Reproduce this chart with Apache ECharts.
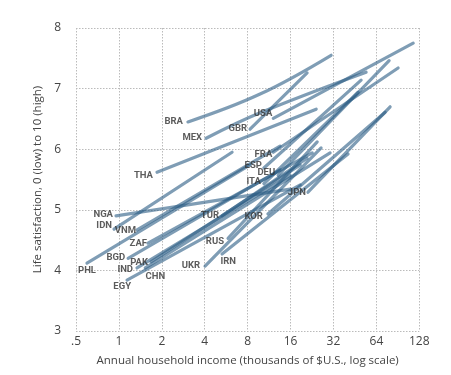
<!DOCTYPE html>
<html>
<head>
<meta charset="utf-8">
<script src="https://cdn.jsdelivr.net/npm/echarts@6/dist/echarts.min.js"></script>
<style>
html,body{margin:0;padding:0;background:#fff;}
#chart{width:451px;height:375px;}
</style>
</head>
<body>
<div id="chart"></div>
<script>
// Country codes
const countries = ['BRA','MEX','GBR','USA','THA','FRA','ESP','DEU','ITA','JPN','KOR','TUR','RUS','UKR','IRN','NGA','IDN','VNM','ZAF','BGD','PAK','IND','PHL','CHN','EGY'];
// Annual household income (thousands of $U.S.) along each country's curve
const incomes = [
  [3.05, 9.78, 30.8],
  [4.09, 9.78, 54.2],
  [8.32, 20.9],
  [12.1, 116],
  [1.85, 24.2],
  [12.1, 90.9],
  [10.4, 50.0],
  [13.1, 78.6],
  [10.4, 47.6],
  [21.2, 79.9],
  [11.1, 73.7],
  [5.29, 20.9],
  [5.83, 24.6],
  [4.02, 26.2],
  [5.29, 40.5],
  [0.954, 15.9],
  [0.924, 6.22],
  [1.34, 13.5],
  [1.60, 22.7],
  [1.16, 13.5],
  [1.68, 18.7],
  [1.34, 15.9],
  [0.597, 8.32],
  [1.53, 30.3],
  [1.14, 18.7]
];
// Life satisfaction (0-10) along each country's curve
const satisfaction = [
  [6.45, 6.91, 7.55],
  [6.18, 6.60, 7.27],
  [6.33, 7.26],
  [6.51, 7.75],
  [5.62, 6.66],
  [5.95, 7.34],
  [5.69, 7.14],
  [5.57, 7.46],
  [5.43, 6.94],
  [5.29, 6.70],
  [4.93, 6.61],
  [4.90, 5.85],
  [4.53, 6.12],
  [4.07, 6.02],
  [4.27, 5.92],
  [4.90, 5.34],
  [4.68, 5.95],
  [4.67, 6.05],
  [4.45, 5.94],
  [4.20, 5.66],
  [4.14, 5.74],
  [4.04, 5.57],
  [4.12, 5.74],
  [4.04, 5.94],
  [3.84, 5.41]
];
const xTickLabels = {0.5:'.5',1:'1',2:'2',4:'4',8:'8',16:'16',32:'32',64:'64',128:'128'};

// label placement (style): offset in px from the curve's start point
const labelOffsets = {
  BRA:[-5,0], MEX:[-4,-1], GBR:[-3,-1], USA:[-1,-5], THA:[-4,3], FRA:[-1,2], ESP:[-2,-2],
  DEU:[-3,-3], ITA:[-3,-2], JPN:[-2,0], KOR:[-5,3], TUR:[-3,0], RUS:[-4,3], UKR:[-5,-1],
  IRN:[14,8], NGA:[-3,-1], IDN:[-2,-4], VNM:[-1,1], ZAF:[-1,0], BGD:[-3,-1], PAK:[-3,1],
  IND:[-4,2], PHL:[9,7], CHN:[20,9], EGY:[4,7]
};

const lineColor = '#2a5b84';
const axisFont = 'Open Sans';
const series = [];
countries.forEach((c, i) => {
  series.push({
    type: 'line',
    name: c,
    data: incomes[i].map((v, j) => [v, satisfaction[i][j]]),
    smooth: 0.4,
    showSymbol: false,
    symbol: 'none',
    silent: true,
    lineStyle: {color: lineColor, width: 3.2, opacity: 0.6, cap: 'round'},
    z: 2
  });
});
series.push({
  type: 'scatter',
  silent: true,
  symbolSize: 0,
  data: countries.map((c, i) => ({
    value: [incomes[i][0], satisfaction[i][0]],
    name: c,
    label: {offset: labelOffsets[c]}
  })),
  label: {
    show: true,
    position: 'left',
    distance: 0,
    formatter: p => p.name,
    color: '#333',
    fontFamily: 'Roboto',
    fontWeight: 'bold',
    fontSize: 9.5
  },
  z: 5
});

const chart = echarts.init(document.getElementById('chart'), null, {renderer: 'canvas'});
chart.setOption({
  animation: false,
  backgroundColor: '#fff',
  grid: {left: 76, right: 31.7, top: 28, bottom: 44, containLabel: false},
  xAxis: {
    type: 'log',
    logBase: 2,
    min: 0.5,
    max: 128,
    splitNumber: 8,
    name: 'Annual household income (thousands of $U.S., log scale)',
    nameLocation: 'middle',
    nameGap: 24,
    nameTextStyle: {color: '#444', fontSize: 11.5, fontFamily: axisFont},
    axisLine: {show: false},
    axisTick: {show: false},
    axisLabel: {color: '#444', fontSize: 12, fontFamily: axisFont, margin: 5,
      formatter: v => xTickLabels[v] !== undefined ? xTickLabels[v] : String(v)},
    splitLine: {show: true, lineStyle: {color: '#bbb', type: [1.5, 1.5], width: 1}}
  },
  yAxis: {
    type: 'value',
    min: 3,
    max: 8,
    interval: 1,
    name: 'Life satisfaction, 0 (low) to 10 (high)',
    nameLocation: 'middle',
    nameGap: 32,
    nameTextStyle: {color: '#444', fontSize: 11.5, fontFamily: axisFont},
    axisLine: {show: false},
    axisTick: {show: false},
    axisLabel: {color: '#444', fontSize: 12, fontFamily: axisFont, margin: 15},
    splitLine: {show: true, lineStyle: {color: '#bbb', type: [1.5, 1.5], width: 1}}
  },
  series: series
});
</script>
</body>
</html>
